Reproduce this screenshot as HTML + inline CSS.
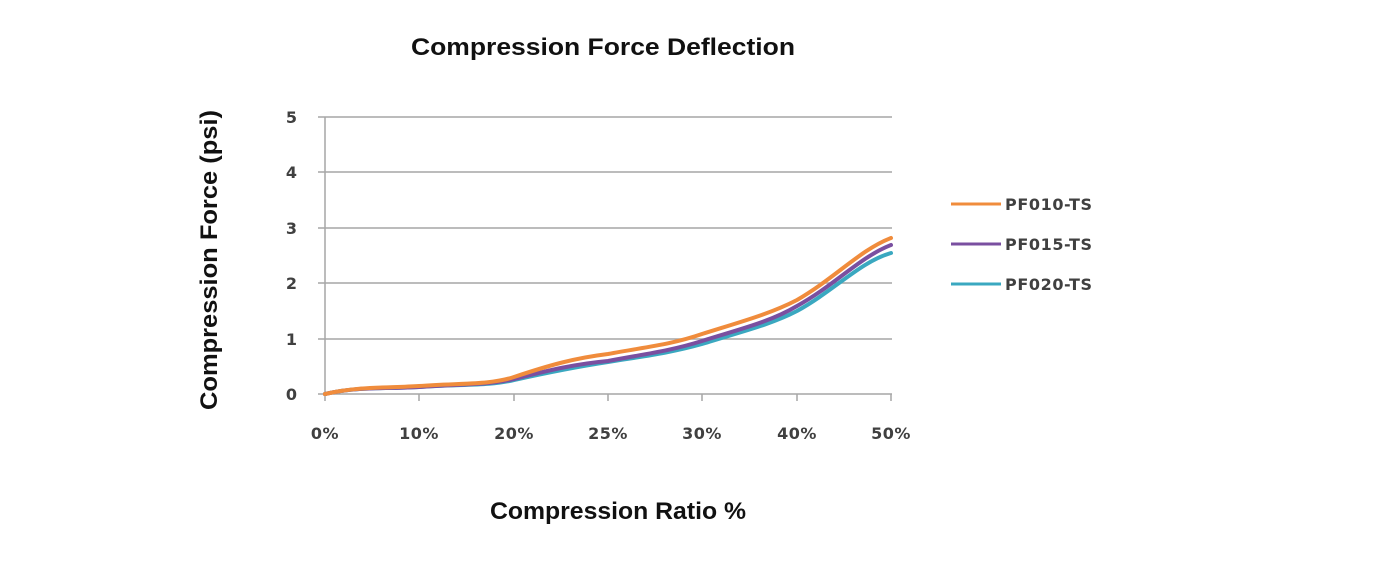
<!DOCTYPE html>
<html><head><style>
html,body{margin:0;padding:0;background:#fff;}
body{width:1389px;height:576px;overflow:hidden;}
</style></head><body>
<svg width="1389" height="576" xmlns="http://www.w3.org/2000/svg" font-family="Liberation Sans, sans-serif">
<text x="603" y="55" font-size="24" font-weight="bold" text-anchor="middle" fill="#111" textLength="384" lengthAdjust="spacingAndGlyphs">Compression Force Deflection</text>
<text x="618" y="519" font-size="24" font-weight="bold" text-anchor="middle" fill="#111" textLength="256" lengthAdjust="spacingAndGlyphs">Compression Ratio %</text>
<text transform="translate(217,260) rotate(-90)" font-size="24" font-weight="bold" text-anchor="middle" fill="#111" textLength="300" lengthAdjust="spacingAndGlyphs">Compression Force  (psi)</text>
<g stroke="#a6a6a6" stroke-width="1.5">
<line x1="318" y1="117" x2="892" y2="117"/>
<line x1="318" y1="172" x2="892" y2="172"/>
<line x1="318" y1="228" x2="892" y2="228"/>
<line x1="318" y1="283" x2="892" y2="283"/>
<line x1="318" y1="339" x2="892" y2="339"/>
<line x1="318" y1="394" x2="892" y2="394"/>
<line x1="325" y1="117" x2="325" y2="401"/>
<line x1="419" y1="394" x2="419" y2="401"/>
<line x1="514" y1="394" x2="514" y2="401"/>
<line x1="608" y1="394" x2="608" y2="401"/>
<line x1="702" y1="394" x2="702" y2="401"/>
<line x1="797" y1="394" x2="797" y2="401"/>
<line x1="891" y1="394" x2="891" y2="401"/>
</g>
<g font-family="DejaVu Sans, sans-serif" font-size="16" font-weight="bold" fill="#404040" text-anchor="end">
<text x="297" y="123">5</text><text x="297" y="178">4</text><text x="297" y="234">3</text>
<text x="297" y="289">2</text><text x="297" y="345">1</text><text x="297" y="400">0</text>
</g>
<g font-family="DejaVu Sans, sans-serif" font-size="16" font-weight="bold" fill="#404040" text-anchor="middle" letter-spacing="0.5">
<text x="325" y="439">0%</text><text x="419" y="439">10%</text><text x="514" y="439">20%</text>
<text x="608" y="439">25%</text><text x="702" y="439">30%</text><text x="797" y="439">40%</text><text x="891" y="439">50%</text>
</g>
<g fill="none" stroke-width="4" stroke-linejoin="round" stroke-linecap="round">
<path stroke="#3aa8c0" d="M325,394 C360,386 390,389 419,387 C460,384 490,386 514,380 C550,372 575,367 608,362 C645,356 670,353 702,344 C740,332 770,325 797,311 C835,290 860,262 891,253"/>
<path stroke="#7a4fa0" d="M325,394 C360,386 390,389 419,387 C460,384 490,385 514,379 C550,370 575,364 608,361 C645,354 670,351 702,341 C740,329 770,322 797,306 C835,285 860,257 891,245"/>
<path stroke="#f08c3c" d="M325,394 C360,386 390,388 419,386 C460,383 490,385 514,377 C550,365 575,358 608,354 C645,347 670,345 702,334 C740,322 770,314 797,300 C835,278 860,250 891,238"/>
</g>
<g stroke-width="3">
<line x1="951" y1="204" x2="1001" y2="204" stroke="#f08c3c"/>
<line x1="951" y1="244" x2="1001" y2="244" stroke="#7a4fa0"/>
<line x1="951" y1="284" x2="1001" y2="284" stroke="#3aa8c0"/>
</g>
<g font-family="DejaVu Sans, sans-serif" font-size="16" font-weight="bold" fill="#404040" letter-spacing="0.6">
<text x="1005" y="210">PF010-TS</text>
<text x="1005" y="250">PF015-TS</text>
<text x="1005" y="290">PF020-TS</text>
</g>
</svg>
</body></html>
